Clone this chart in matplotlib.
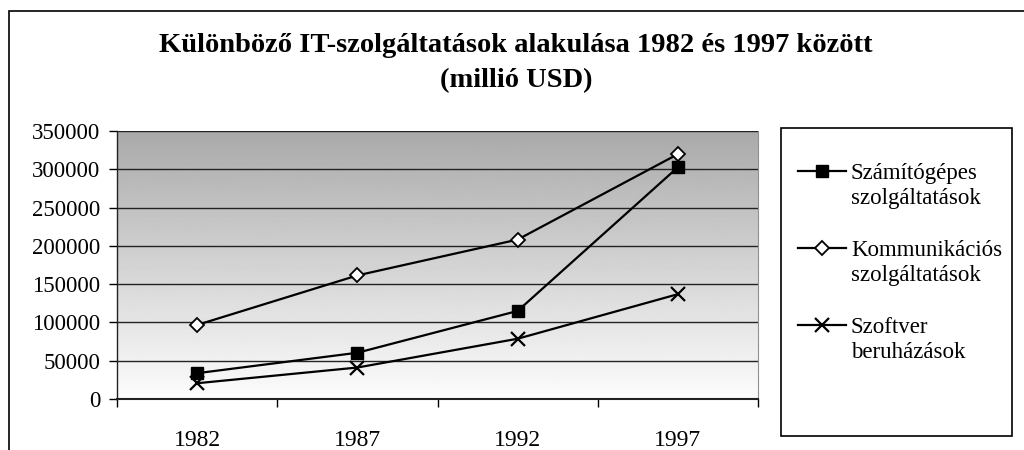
import matplotlib.pyplot as plt
import numpy as np
from matplotlib.patches import Rectangle
from matplotlib.lines import Line2D

years = ['1982', '1987', '1992', '1997']
szamitogepes = [33700, 60400, 115000, 302700]
kommunikacios = [96700, 161400, 208200, 319800]
szoftver = [20600, 41100, 78700, 136900]
labels = ['Számítógépes\nszolgáltatások', 'Kommunikációs\nszolgáltatások', 'Szoftver\nberuházások']
title = 'Különböző IT-szolgáltatások alakulása 1982 és 1997 között\n(millió USD)'

plt.rcParams['font.family'] = ['Liberation Serif', 'DejaVu Serif']

fig = plt.figure(figsize=(10.24, 4.5), dpi=100)
W, H = 1024, 450

# outer chart frame (cut off on right and bottom)
fig.patches.append(Rectangle((9 / W, -0.05), 1.1, 1 - 11 / H + 0.05, transform=fig.transFigure,
                             fill=False, edgecolor='black', linewidth=1.2))

ax = fig.add_axes([117 / W, 1 - 399 / H, (758 - 117) / W, (399 - 131) / H])
x = np.arange(len(years))
ax.set_xlim(-0.5, len(years) - 0.5)
ax.set_ylim(0, 350000)

# vertical gradient background: gray at top, white at bottom
grad = np.linspace(0.99, 0.665, 256).reshape(-1, 1)
ax.imshow(grad, cmap='gray', vmin=0, vmax=1, aspect='auto',
          extent=[-0.5, len(years) - 0.5, 0, 350000], origin='lower', zorder=0)

ax.set_yticks(np.arange(0, 350001, 50000))
ax.yaxis.grid(True, color='#222222', linewidth=1)
for gl in ax.get_ygridlines():
    gl.set_zorder(1)

styles = [
    dict(marker='s', ms=9, mfc='black', mec='black'),
    dict(marker='D', ms=7, mfc='white', mec='black', mew=1.3),
    dict(marker='x', ms=10, mec='black', mew=1.6),
]
for series, st in zip([szamitogepes, kommunikacios, szoftver], styles):
    ax.plot(x, series, color='black', lw=1.6, zorder=3, **st)

ax.set_xticks(x)
ax.set_xticklabels(years)
ax.set_xticks(np.arange(-0.5, len(years)), minor=True)
ax.tick_params(axis='x', which='major', length=0, pad=22, labelsize=17)
ax.tick_params(axis='x', which='minor', length=6, direction='out', width=1)
ax.tick_params(axis='y', length=6, direction='out', width=1, labelsize=16.5, pad=6)

ax.spines['top'].set_visible(False)
ax.spines['right'].set_color('#909090')
ax.spines['left'].set_color('#222222')
ax.spines['bottom'].set_color('#222222')
ax.spines['left'].set_linewidth(1)
ax.spines['bottom'].set_linewidth(1.5)

fig.text(516 / W, 1 - 63 / H, title, ha='center', va='center', fontsize=20.5,
         fontweight='bold', linespacing=1.55)

# legend box, entries drawn by hand so the handle sits on the first text line
fig.patches.append(Rectangle((781 / W, 1 - 436 / H), (1012 - 781) / W, (436 - 128) / H,
                             transform=fig.transFigure, fill=True, facecolor='white',
                             edgecolor='black', linewidth=1.2))
for i, (lab, st) in enumerate(zip(labels, styles)):
    yc = 1 - (171 + 77 * i) / H
    fig.add_artist(Line2D([798 / W, 846 / W], [yc, yc], transform=fig.transFigure,
                          color='black', lw=1.6, markevery=[], **st))
    fig.add_artist(Line2D([822 / W], [yc], transform=fig.transFigure,
                          color='black', lw=0, **st))
    fig.text(851 / W, yc + 8 / H, lab, ha='left', va='top', fontsize=16.5, linespacing=1.25)

fig.savefig('out.png', dpi=100)
